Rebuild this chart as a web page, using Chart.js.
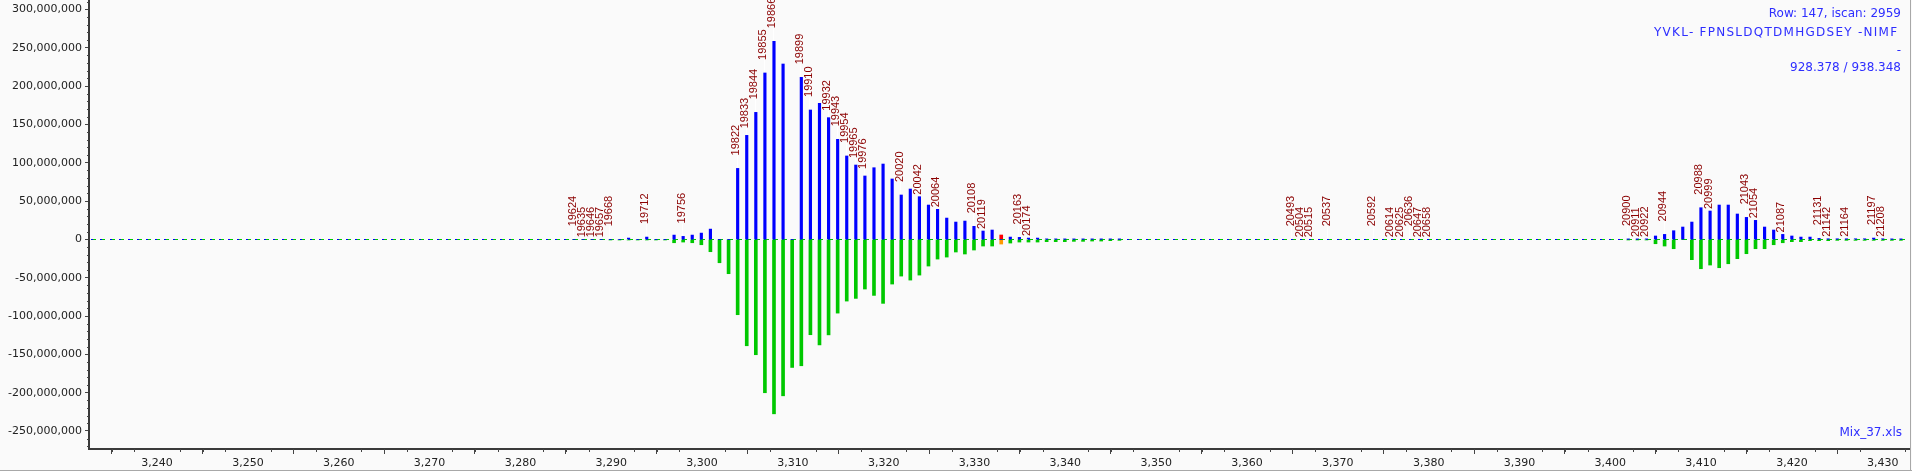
<!DOCTYPE html>
<html lang="en">
<head>
<meta charset="UTF-8">
<title>Isotope pattern</title>
<script src="https://cdn.jsdelivr.net/npm/chart.js"></script>
<style>
  html, body { margin: 0; padding: 0; background: #fafafa; }
  canvas { display: block; }
</style>
</head>
<body>
<canvas id="spectrumChart" width="1912" height="471"></canvas>
<script>
// --- data (intensities in millions) ---
// main cluster
const mzMain = [3285.91, 3286.91, 3287.91, 3288.91, 3289.91, 3290.91, 3291.91, 3292.91, 3293.91, 3294.92,
  3295.92, 3296.92, 3297.92, 3298.92, 3299.92, 3300.92, 3301.92, 3302.92, 3303.92, 3304.92,
  3305.92, 3306.92, 3307.92, 3308.92, 3309.92, 3310.93, 3311.93, 3312.93, 3313.93, 3314.93,
  3315.93, 3316.93, 3317.93, 3318.93, 3319.93, 3320.93, 3321.93, 3322.93, 3323.93, 3324.93,
  3325.93, 3326.94, 3327.94, 3328.94, 3329.94, 3330.94, 3331.94, 3332.94, 3333.94, 3334.94,
  3335.94, 3336.94, 3337.94, 3338.94, 3339.94, 3340.94, 3341.95, 3342.95, 3343.95, 3344.95, 3345.95];
const obsMain = [0, 0, 0, 0, 0, 0, 1.7, 0, 3.0, 0,
  0, 5.6, 3.9, 5.6, 8.2, 13.4, 0, 0, 92.6, 135.7,
  165.7, 217.1, 258.4, 228.8, 0, 211.4, 168.8, 177.5, 158.8, 130.5,
  108.8, 97.0, 82.7, 93.5, 98.3, 78.8, 57.9, 65.7, 55.7, 44.8,
  39.2, 27.8, 22.6, 23.9, 17.0, 10.9, 12.2, 0, 3.0, 2.6,
  1.7, 1.7, 0.5, 0.5, 0.4, 0.4, 0.4, 0.4, 0.4, 0.4, 0.4];
const theoMain = [0, 0, 0, 0, 0.8, 0.8, 0.8, 0.8, 0.8, 0.8,
  0.8, 4.4, 3.5, 4.4, 7.0, 16.1, 30.5, 44.8, 98.3, 138.8,
  150.5, 200.1, 227.6, 204.1, 167.1, 164.9, 124.4, 137.7, 124.6, 96.2,
  80.5, 77.0, 64.8, 73.1, 83.5, 58.3, 47.9, 53.1, 46.6, 34.8,
  25.7, 23.1, 16.5, 19.1, 13.9, 8.7, 8.7, 0, 4.8, 3.5,
  3.5, 3.5, 3.0, 3.0, 3.0, 2.6, 2.6, 2.2, 2.2, 1.7, 1.3];

// second cluster
const mzTail = [3401.98, 3402.98, 3403.98, 3404.98, 3405.98, 3406.98, 3407.98, 3408.98, 3409.98, 3410.99,
  3411.99, 3412.99, 3413.99, 3414.99, 3415.99, 3416.99, 3417.99, 3418.99, 3419.99, 3420.99,
  3421.99, 3422.99, 3423.99, 3424.99, 3426.00, 3427.00, 3428.00, 3429.00, 3430.00, 3431.00, 3432.00];
const obsTail = [0.4, 0.4, 0.4, 4.4, 6.5, 11.3, 16.1, 22.6, 41.3, 37.0,
  44.8, 44.8, 33.1, 28.7, 24.8, 16.1, 12.2, 6.5, 4.4, 3.0,
  3.0, 1.3, 0.8, 0.8, 0.8, 0.8, 0.8, 1.7, 0.8, 0.4, 0.4];
const theoTail = [0.8, 0.8, 0.8, 5.7, 8.7, 12.2, 0, 26.5, 38.3, 33.5,
  37.0, 31.8, 25.2, 18.7, 12.2, 12.2, 7.0, 4.4, 3.0, 3.0,
  1.7, 1.7, 1.7, 1.3, 1.3, 1.3, 1.3, 1.3, 1.3, 1.3, 1.3];

// flagged peak (red / orange)
const flaggedMz = [3332.94];
const flaggedObs = [5.7];
const flaggedTheo = [6.1];

// peak index labels
const labelText = ['19624', '19635', '19646', '19657', '19668', '19712', '19756', '19822', '19833', '19844',
  '19855', '19866', '19899', '19910', '19932', '19943', '19954', '19965', '19976', '20020',
  '20042', '20064', '20108', '20119', '20163', '20174', '20493', '20504', '20515', '20537',
  '20592', '20614', '20625', '20636', '20647', '20658', '20900', '20911', '20922', '20944',
  '20988', '20999', '21043', '21054', '21087', '21131', '21142', '21164', '21197', '21208'];
const labelMz = [3285.91, 3286.91, 3287.91, 3288.91, 3289.91, 3293.91, 3297.92, 3303.92, 3304.92, 3305.92,
  3306.92, 3307.92, 3310.93, 3311.93, 3313.93, 3314.93, 3315.93, 3316.93, 3317.93, 3321.93,
  3323.93, 3325.93, 3329.94, 3330.94, 3334.94, 3335.94, 3364.96, 3365.96, 3366.96, 3368.96,
  3373.96, 3375.96, 3376.96, 3377.97, 3378.97, 3379.97, 3401.98, 3402.98, 3403.98, 3405.98,
  3409.98, 3410.99, 3414.99, 3415.99, 3418.99, 3422.99, 3423.99, 3426.00, 3429.00, 3430.00];

const xTicks = [3240, 3250, 3260, 3270, 3280, 3290, 3300, 3310, 3320, 3330, 3340, 3350, 3360,
  3370, 3380, 3390, 3400, 3410, 3420, 3430];
const yTicks = [-250, -200, -150, -100, -50, 0, 50, 100, 150, 200, 250, 300];

const infoLines = ['Row: 147, iscan: 2959', 'YVKL- FPNSLDQTDMHGDSEY -NIMF', '-', '928.378 / 938.348'];
const fileName = 'Mix_37.xls';

// label placement: low labels sit on the bar, a few sit half way, the rest are lifted
const lowLabels = new Set(['19635', '19646', '19657', '20042', '20064', '20119', '20174', '20504', '20515',
  '20614', '20625', '20647', '20658', '20911', '20922', '20999', '21054', '21087', '21142', '21164', '21208']);
const midLabels = new Set(['19833', '19932', '19965', '19976']);

const M = 1e6;
const allMz = mzMain.concat(mzTail, flaggedMz);
const allObs = obsMain.concat(obsTail, flaggedObs);

function pts(xs, ys, sign) {
  return xs.map((m, i) => ({ x: m, y: sign * ys[i] * M }));
}

function topValue(m) {
  for (let i = 0; i < allMz.length; i++) {
    if (Math.abs(allMz[i] - m) < 0.3 && allObs[i] > 0) return allObs[i] * M;
  }
  return 0;
}

const decor = {
  id: 'decor',
  beforeDatasetsDraw(chart) {
    const { ctx, scales: { x, y } } = chart;
    const zeroY = Math.round(y.getPixelForValue(0));
    const step = (mzMain[mzMain.length - 1] - mzMain[0]) / (mzMain.length - 1);
    const start = mzMain[0] - Math.floor((mzMain[0] - x.min) / step) * step;
    ctx.save();
    for (let m = start; m <= x.max; m += step) {
      const px = Math.round(x.getPixelForValue(m));
      ctx.fillStyle = '#0000ff';
      ctx.fillRect(px - 1, zeroY, 2, 1);
      ctx.fillStyle = '#00c800';
      ctx.fillRect(px + 1, zeroY, 3, 1);
    }
    ctx.restore();
  },
  afterDatasetsDraw(chart) {
    const { ctx, scales: { x, y } } = chart;
    ctx.save();
    ctx.font = '11px "Liberation Sans", Arial, sans-serif';
    ctx.textAlign = 'left';
    ctx.textBaseline = 'alphabetic';
    labelText.forEach((t, i) => {
      const px = x.getPixelForValue(labelMz[i]);
      const top = y.getPixelForValue(topValue(labelMz[i]));
      const gap = lowLabels.has(t) ? 2 : (midLabels.has(t) ? 7 : 13);
      const y0 = top - gap;
      if (gap > 2) {
        ctx.strokeStyle = '#ffffff';
        ctx.lineWidth = 1;
        ctx.beginPath();
        ctx.moveTo(Math.round(px) - 0.5, top - 1);
        ctx.lineTo(Math.round(px) - 0.5, y0);
        ctx.stroke();
      }
      ctx.save();
      ctx.translate(px + 1.5, y0);
      ctx.rotate(-Math.PI / 2);
      ctx.fillStyle = '#8b0000';
      ctx.fillText(t, 0, 0);
      ctx.restore();
    });
    ctx.restore();
  },
  afterDraw(chart) {
    const { ctx, chartArea: ca, scales: { x, y } } = chart;
    ctx.save();
    // minor ticks
    ctx.strokeStyle = '#444';
    ctx.lineWidth = 1;
    ctx.beginPath();
    for (let v = 3235; v <= x.max; v += 2.5) {
      if (v % 10 === 0) continue;
      const px = Math.round(x.getPixelForValue(v)) + 0.5;
      ctx.moveTo(px, ca.bottom);
      ctx.lineTo(px, ca.bottom + 3);
    }
    for (let v = -270; v <= 310; v += 10) {
      if (v % 50 === 0) continue;
      const py = Math.round(y.getPixelForValue(v * M)) + 0.5;
      ctx.moveTo(ca.left - 2, py);
      ctx.lineTo(ca.left, py);
    }
    ctx.stroke();
    // window frame
    ctx.strokeStyle = '#a8a8a8';
    ctx.beginPath();
    ctx.moveTo(1910.5, 0);
    ctx.lineTo(1910.5, 471);
    ctx.moveTo(0, 470.5);
    ctx.lineTo(1912, 470.5);
    ctx.stroke();
    // info text
    ctx.fillStyle = '#2e2eff';
    ctx.font = '12px "DejaVu Sans", Verdana, sans-serif';
    ctx.textBaseline = 'middle';
    ctx.textAlign = 'right';
    ctx.fillText(infoLines[0], 1901, 14);
    ctx.fillText(infoLines[2], 1901, 51);
    ctx.fillText(infoLines[3], 1901, 68);
    ctx.fillText(fileName, 1902, 433);
    // the sequence line runs from 1654 to 1897 in the original
    const w = ctx.measureText(infoLines[1]).width;
    const extra = Math.max(0, (243 - w) / (infoLines[1].length - 1));
    ctx.letterSpacing = extra.toFixed(2) + 'px';
    ctx.textAlign = 'left';
    ctx.fillText(infoLines[1], 1654, 33);
    ctx.restore();
  }
};

const tickFont = { family: '"DejaVu Sans", Verdana, sans-serif', size: 11 };

new Chart(document.getElementById('spectrumChart'), {
  type: 'bar',
  data: {
    datasets: [
      { label: 'observed', data: pts(mzMain.concat(mzTail), obsMain.concat(obsTail), 1),
        backgroundColor: '#0000ff', barThickness: 2.5, grouped: false },
      { label: 'theoretical', data: pts(mzMain.concat(mzTail), theoMain.concat(theoTail), -1),
        backgroundColor: '#00c800', barThickness: 3, grouped: false },
      { label: 'flagged observed', data: pts(flaggedMz, flaggedObs, 1),
        backgroundColor: '#ff0000', barThickness: 3, grouped: false },
      { label: 'flagged theoretical', data: pts(flaggedMz, flaggedTheo, -1),
        backgroundColor: '#ff9900', barThickness: 3, grouped: false }
    ]
  },
  options: {
    responsive: false,
    devicePixelRatio: 1,
    animation: false,
    layout: { padding: { left: 0, right: 2, top: 1, bottom: 0 } },
    plugins: { legend: { display: false }, tooltip: { enabled: false } },
    scales: {
      x: {
        type: 'linear',
        min: 3232.5,
        max: 3433,
        offset: false,
        afterBuildTicks: s => { s.ticks = xTicks.map(v => ({ value: v })); },
        afterFit: s => { s.height = 22; s.paddingLeft = 0; s.paddingRight = 0; },
        ticks: {
          font: tickFont, color: '#222', padding: 3, maxRotation: 0, autoSkip: false,
          callback: v => v.toLocaleString('en-US')
        },
        grid: { drawOnChartArea: false, drawTicks: true, tickLength: 5, color: '#444' },
        border: { display: true, color: '#3a3a3a', width: 2 }
      },
      y: {
        min: -273.5 * M,
        max: 311 * M,
        afterBuildTicks: s => { s.ticks = yTicks.map(v => ({ value: v * M })); },
        afterFit: s => { s.width = 89; s.paddingTop = 0; s.paddingBottom = 0; },
        ticks: {
          font: tickFont, color: '#222', padding: 3, autoSkip: false,
          callback: v => v.toLocaleString('en-US')
        },
        grid: { drawOnChartArea: false, drawTicks: true, tickLength: 4, color: '#444' },
        border: { display: true, color: '#3a3a3a', width: 2 }
      }
    }
  },
  plugins: [decor]
});
</script>
</body>
</html>
